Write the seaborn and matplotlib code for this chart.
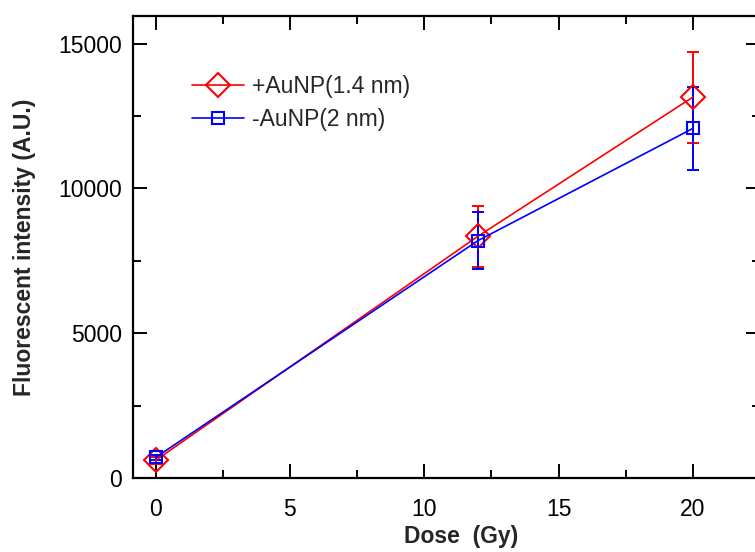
import matplotlib
matplotlib.use("Agg")
import matplotlib.pyplot as plt
import seaborn as sns
import pandas as pd
from matplotlib.ticker import MultipleLocator

# Data
dose = [0, 12, 20]
au_14 = [620, 8350, 13150]
au_14_err = [110, 1050, 1570]
au_2 = [720, 8200, 12070]
au_2_err = [90, 980, 1440]
labels = ["+AuNP(1.4 nm)", "-AuNP(2 nm)"]

sns.set_theme(style="ticks")
plt.rcParams["font.family"] = ["Liberation Sans", "DejaVu Sans"]

df = pd.DataFrame({
    "Dose": dose * 2,
    "Intensity": au_14 + au_2,
    "err": au_14_err + au_2_err,
    "Group": [labels[0]] * 3 + [labels[1]] * 3,
})

fig = plt.figure(figsize=(7.55, 5.52), dpi=100)
ax = fig.add_axes([0.1766, 0.1335, 0.83, 0.8375])

colors = {labels[0]: "#FF0000", labels[1]: "#0000FF"}
markers = {labels[0]: "D", labels[1]: "s"}
sizes = {labels[0]: 12.5, labels[1]: 8.5}

for g in labels:
    sub = df[df["Group"] == g]
    ax.errorbar(sub["Dose"], sub["Intensity"], yerr=sub["err"], fmt="none",
                ecolor=colors[g], elinewidth=1.4, capsize=4.3, capthick=1.4, zorder=2)

sns.lineplot(data=df, x="Dose", y="Intensity", hue="Group", style="Group",
             palette=colors, markers=markers, dashes=False, ax=ax, zorder=3,
             linewidth=1.2, legend=False)
for line, g in zip(ax.lines[-2:], labels):
    line.set_markersize(sizes[g])
    line.set_markerfacecolor("none")
    line.set_markeredgecolor(colors[g])
    line.set_markeredgewidth(1.5)
    line.set_label(g)

ax.set_xlim(-0.83, 22.5)
ax.set_ylim(0, 15950)
ax.xaxis.set_major_locator(MultipleLocator(5))
ax.xaxis.set_minor_locator(MultipleLocator(2.5))
ax.yaxis.set_major_locator(MultipleLocator(5000))
ax.yaxis.set_minor_locator(MultipleLocator(2500))
ax.tick_params(which="both", direction="in", top=True, right=True, width=1.4,
               colors="black", labelsize=16.5)
ax.tick_params(axis="x", pad=14)
ax.tick_params(axis="y", pad=8)
ax.tick_params(which="major", length=10)
ax.tick_params(which="minor", length=6)
for s in ax.spines.values():
    s.set_linewidth(1.6)
    s.set_color("black")

ax.set_xlabel("Dose  (Gy)", fontsize=16.5, fontweight="bold")
ax.set_ylabel("Fluorescent intensity (A.U.)", fontsize=16.5, fontweight="bold")
ax.xaxis.set_label_coords(0.523, -0.102)
ax.yaxis.set_label_coords(-0.156, 0.5)

ax.legend(loc="upper left", bbox_to_anchor=(0.06, 0.917), frameon=False, fontsize=16.5,
          handlelength=2.3, handletextpad=0.35, labelspacing=0.45)

fig.savefig("out.png", dpi=100)
